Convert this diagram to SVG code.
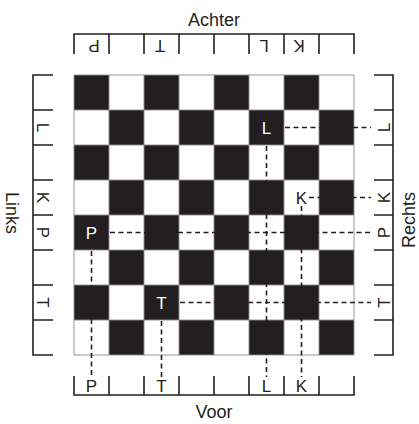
<svg xmlns="http://www.w3.org/2000/svg" width="419" height="424" viewBox="0 0 419 424">
<style>
text{font-family:"Liberation Sans",Arial,sans-serif;fill:#231f20}
.t{font-size:18px}
.r{font-size:17px;text-anchor:middle}
.w{fill:#fff}
.ru{stroke:#231f20;stroke-width:1.6;fill:none}
.sq{fill:#231f20}
.gr{stroke:#8c8c8c;stroke-width:0.9;fill:none}
.d{stroke:#231f20;stroke-width:1.6;stroke-dasharray:5 3.5;fill:none}
</style>
<rect width="419" height="424" fill="#fff"/>
<g id="board">
<rect x="74" y="75" width="280" height="280" fill="#fff"/>
<g class="sq">
<rect x="74" y="75" width="35" height="35"/><rect x="144" y="75" width="35" height="35"/><rect x="214" y="75" width="35" height="35"/><rect x="284" y="75" width="35" height="35"/>
<rect x="109" y="110" width="35" height="35"/><rect x="179" y="110" width="35" height="35"/><rect x="249" y="110" width="35" height="35"/><rect x="319" y="110" width="35" height="35"/>
<rect x="74" y="145" width="35" height="35"/><rect x="144" y="145" width="35" height="35"/><rect x="214" y="145" width="35" height="35"/><rect x="284" y="145" width="35" height="35"/>
<rect x="109" y="180" width="35" height="35"/><rect x="179" y="180" width="35" height="35"/><rect x="249" y="180" width="35" height="35"/><rect x="319" y="180" width="35" height="35"/>
<rect x="74" y="215" width="35" height="35"/><rect x="144" y="215" width="35" height="35"/><rect x="214" y="215" width="35" height="35"/><rect x="284" y="215" width="35" height="35"/>
<rect x="109" y="250" width="35" height="35"/><rect x="179" y="250" width="35" height="35"/><rect x="249" y="250" width="35" height="35"/><rect x="319" y="250" width="35" height="35"/>
<rect x="74" y="285" width="35" height="35"/><rect x="144" y="285" width="35" height="35"/><rect x="214" y="285" width="35" height="35"/><rect x="284" y="285" width="35" height="35"/>
<rect x="109" y="320" width="35" height="35"/><rect x="179" y="320" width="35" height="35"/><rect x="249" y="320" width="35" height="35"/><rect x="319" y="320" width="35" height="35"/>
</g>
<path class="gr" d="M74 75H354V355H74ZM109 75V355M144 75V355M179 75V355M214 75V355M249 75V355M284 75V355M319 75V355M74 110H354M74 145H354M74 180H354M74 215H354M74 250H354M74 285H354M74 320H354"/>
</g>
<g id="connectors">
<path class="d" d="M285 127.5H371M266.5 146V377"/>
<path class="d" d="M309 197.5H371M301.5 206V377"/>
<path class="d" d="M110 232.5H371M91.5 251V377"/>
<path class="d" d="M180 302.5H371M161.5 321V377"/>
</g>
<g id="pieces">
<g id="piece-L"><text class="r w" x="266.5" y="133.5">L</text></g>
<g id="piece-K"><text class="r" x="301.5" y="203.5">K</text></g>
<g id="piece-P"><text class="r w" x="91.5" y="238.5">P</text></g>
<g id="piece-T"><text class="r w" x="161.5" y="308.5">T</text></g>
</g>
<g id="ruler-top">
<path class="ru" d="M74 54V34H354V54M109 34V54M144 34V54M179 34V54M214 34V54M249 34V54M284 34V54M319 34V54"/>
<text class="r" x="94" y="52" transform="rotate(180 94 46)">P</text>
<text class="r" x="160" y="52" transform="rotate(180 160 46)">T</text>
<text class="r" x="264" y="52" transform="rotate(180 264 46)">L</text>
<text class="r" x="299" y="52" transform="rotate(180 299 46)">K</text>
<text class="t" x="214" y="26" text-anchor="middle">Achter</text>
</g>
<g id="ruler-bottom">
<path class="ru" d="M74 376V395H354V376M109 376V395M144 376V395M179 376V395M214 376V395M249 376V395M284 376V395M319 376V395"/>
<text class="r" x="91.5" y="392">P</text>
<text class="r" x="161.5" y="392">T</text>
<text class="r" x="266.5" y="392">L</text>
<text class="r" x="301.5" y="392">K</text>
<text class="t" x="214" y="418" text-anchor="middle">Voor</text>
</g>
<g id="ruler-left">
<path class="ru" d="M53 75H33V355H53M33 110H53M33 145H53M33 180H53M33 215H53M33 250H53M33 285H53M33 320H53"/>
<text class="r" x="43" y="133.5" transform="rotate(90 43 127.5)">L</text>
<text class="r" x="43" y="203.5" transform="rotate(90 43 197.5)">K</text>
<text class="r" x="43" y="238.5" transform="rotate(90 43 232.5)">P</text>
<text class="r" x="43" y="308.5" transform="rotate(90 43 302.5)">T</text>
<text class="t" x="12" y="219" text-anchor="middle" transform="rotate(90 12 213)">Links</text>
</g>
<g id="ruler-right">
<path class="ru" d="M374 75H393V355H374M374 110H393M374 145H393M374 180H393M374 215H393M374 250H393M374 285H393M374 320H393"/>
<text class="r" x="384" y="133.5" transform="rotate(-90 384 127.5)">L</text>
<text class="r" x="384" y="203.5" transform="rotate(-90 384 197.5)">K</text>
<text class="r" x="384" y="238.5" transform="rotate(-90 384 232.5)">P</text>
<text class="r" x="384" y="308.5" transform="rotate(-90 384 302.5)">T</text>
<text class="t" x="409" y="226" text-anchor="middle" transform="rotate(-90 409 220)">Rechts</text>
</g>
</svg>
